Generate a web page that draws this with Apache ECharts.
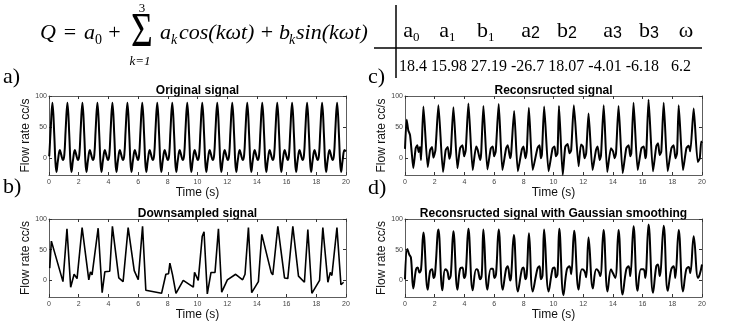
<!DOCTYPE html>
<html>
<head>
<meta charset="utf-8">
<script src="https://cdn.jsdelivr.net/npm/echarts@6/dist/echarts.min.js"></script>
<style>
  html, body { margin: 0; padding: 0; background: #fff; }
  #main { width: 738px; height: 322px; }
</style>
</head>
<body>
<div id="main"></div>
<script>
// Fourier coefficients shown in the table
var coefNames = ['a0', 'a1', 'b1', 'a2', 'b2', 'a3', 'b3', 'ω'];
var coefValues = ['18.4', '15.98', '27.19', '-26.7', '18.07', '-4.01', '-6.18', '6.2'];

var timeTicks = [0, 2, 4, 6, 8, 10, 12, 14, 16, 18, 20];
var flowTicks = [0, 50, 100];

var panelTitles = ['Original signal', 'Downsampled signal', 'Reconsructed signal',
  'Reconsructed signal with Gaussian smoothing'];
var panelLetters = ['a)', 'b)', 'c)', 'd)'];

// a) original signal [time s, flow cc/s]
var originalSignal = [
  [0, 3], [0.02, 5], [0.11, 45], [0.23, 89], [0.36, 35], [0.43, -5], [0.50, -22], [0.60, -4], [0.73, 13], [0.83, 5], [0.93, -3],
  [1.03, 5], [1.12, 45], [1.24, 89], [1.37, 35], [1.44, -5], [1.51, -22], [1.61, -4], [1.74, 13], [1.84, 5], [1.94, -3],
  [2.04, 5], [2.13, 45], [2.25, 89], [2.38, 35], [2.45, -5], [2.52, -22], [2.62, -4], [2.75, 13], [2.85, 5], [2.95, -3],
  [3.05, 5], [3.14, 45], [3.26, 89], [3.39, 35], [3.46, -5], [3.53, -22], [3.63, -4], [3.76, 13], [3.86, 5], [3.96, -3],
  [4.06, 5], [4.15, 45], [4.27, 89], [4.40, 35], [4.47, -5], [4.54, -22], [4.64, -4], [4.77, 13], [4.87, 5], [4.97, -3],
  [5.07, 5], [5.16, 45], [5.28, 89], [5.41, 35], [5.48, -5], [5.55, -22], [5.65, -4], [5.78, 13], [5.88, 5], [5.98, -3],
  [6.07, 5], [6.16, 45], [6.28, 89], [6.41, 35], [6.48, -5], [6.55, -22], [6.65, -4], [6.78, 13], [6.88, 5], [6.98, -3],
  [7.08, 5], [7.17, 45], [7.29, 89], [7.42, 35], [7.49, -5], [7.56, -22], [7.66, -4], [7.79, 13], [7.89, 5], [7.99, -3],
  [8.09, 5], [8.18, 45], [8.30, 89], [8.43, 35], [8.50, -5], [8.57, -22], [8.67, -4], [8.80, 13], [8.90, 5], [9.00, -3],
  [9.10, 5], [9.19, 45], [9.31, 89], [9.44, 35], [9.51, -5], [9.58, -22], [9.68, -4], [9.81, 13], [9.91, 5], [10.01, -3],
  [10.11, 5], [10.20, 45], [10.32, 89], [10.45, 35], [10.52, -5], [10.59, -22], [10.69, -4], [10.82, 13], [10.92, 5], [11.02, -3],
  [11.12, 5], [11.21, 45], [11.33, 89], [11.46, 35], [11.53, -5], [11.60, -22], [11.70, -4], [11.83, 13], [11.93, 5], [12.03, -3],
  [12.13, 5], [12.22, 45], [12.34, 89], [12.47, 35], [12.54, -5], [12.61, -22], [12.71, -4], [12.84, 13], [12.94, 5], [13.04, -3],
  [13.14, 5], [13.23, 45], [13.35, 89], [13.48, 35], [13.55, -5], [13.62, -22], [13.72, -4], [13.85, 13], [13.95, 5], [14.05, -3],
  [14.15, 5], [14.24, 45], [14.36, 89], [14.49, 35], [14.56, -5], [14.63, -22], [14.73, -4], [14.86, 13], [14.96, 5], [15.06, -3],
  [15.16, 5], [15.25, 45], [15.37, 89], [15.50, 35], [15.57, -5], [15.64, -22], [15.74, -4], [15.87, 13], [15.97, 5], [16.07, -3],
  [16.16, 5], [16.25, 45], [16.37, 89], [16.50, 35], [16.57, -5], [16.64, -22], [16.74, -4], [16.87, 13], [16.97, 5], [17.07, -3],
  [17.17, 5], [17.26, 45], [17.38, 89], [17.51, 35], [17.58, -5], [17.65, -22], [17.75, -4], [17.88, 13], [17.98, 5], [18.08, -3],
  [18.18, 5], [18.27, 45], [18.39, 89], [18.52, 35], [18.59, -5], [18.66, -22], [18.76, -4], [18.89, 13], [18.99, 5], [19.09, -3],
  [19.19, 5], [19.28, 45], [19.40, 89], [19.53, 35], [19.60, -5], [19.67, -22], [19.77, -4], [19.90, 13], [20, 11]
];

// b) downsampled signal
var downsampledSignal = [
  [0.05, 20], [0.16, 64], [0.94, -2], [1.21, 84], [1.46, -11], [1.69, 10], [1.89, 3], [2.23, 86],
  [2.68, 1], [2.79, 14], [2.90, 9], [3.31, 85], [3.58, -20], [3.76, 14], [4.09, 15], [4.27, 88],
  [4.70, 4], [4.99, -2], [5.33, 86], [5.74, 16], [6.01, 1], [6.30, 88], [6.52, -16], [7.58, -21],
  [7.87, 10], [8.05, 11], [8.14, 28], [8.32, 9], [8.55, -21], [9.04, 0], [9.72, -11], [9.80, 13],
  [10.05, 0], [10.32, 72], [10.44, 79], [10.66, -22], [10.91, 13], [11.18, 13], [11.41, 84], [11.63, -19],
  [12.01, 1], [12.57, 10], [13.04, 1], [13.20, 10], [13.43, 86], [13.65, -20], [14.10, -2], [14.33, 75],
  [14.96, 13], [15.07, 9], [15.41, 88], [15.86, 4], [16.08, 3], [16.42, 88], [16.80, 7], [17.20, -3],
  [17.43, 83], [17.70, -21], [18.22, 0], [18.44, 86], [18.78, -3], [18.94, 13], [19.05, 8], [19.39, 86],
  [19.66, -7], [19.84, -3]
];

// c) reconstructed signal
var reconstructedSignal = [
  [0, 15], [0.11, 62], [0.22, 45], [0.34, 37], [0.45, 10], [0.56, -16], [0.72, 16], [0.83, 21], [0.92, 10], [1.01, 18], [1.08, -3],
  [1.24, 83], [1.53, -14], [1.69, 13], [1.82, 18], [1.91, 1], [2.05, 13], [2.25, 85], [2.56, -22], [2.74, 13], [2.88, 18], [2.99, -1],
  [3.08, 8], [3.26, 82], [3.53, -16], [3.71, 16], [3.87, 21], [3.98, 3], [4.09, 13], [4.27, 88], [4.56, -19], [4.79, 19], [4.90, 13],
  [5.06, -3], [5.13, 8], [5.28, 84], [5.55, -18], [5.78, 16], [5.91, 19], [6.00, 3], [6.11, 11], [6.31, 87], [6.56, -19], [6.81, 16],
  [6.92, 21], [7.08, 0], [7.15, 8], [7.35, 76], [7.60, -21], [7.87, 14], [7.98, 19], [8.11, 0], [8.20, 11], [8.34, 81], [8.60, -19],
  [8.92, 16], [9.06, 21], [9.15, 0], [9.22, 6], [9.37, 83], [9.67, -21], [9.94, 16], [10.07, 19], [10.16, 3], [10.27, 8], [10.37, 84],
  [10.62, -27], [10.79, 18], [10.95, 23], [11.08, 8], [11.19, 13], [11.37, 85], [11.69, -13], [11.85, 22], [11.98, 19], [12.09, 0],
  [12.20, 8], [12.36, 72], [12.63, -19], [12.86, 13], [12.97, 19], [13.11, -3], [13.20, 5], [13.38, 85], [13.62, -22], [13.87, 16],
  [14.01, 11], [14.12, 0], [14.21, 8], [14.38, 84], [14.66, -24], [14.90, 16], [15.06, 21], [15.17, 3], [15.24, 8], [15.39, 89],
  [15.67, -19], [15.92, 16], [16.08, 19], [16.19, 0], [16.25, 8], [16.40, 94], [16.70, -21], [16.92, 19], [17.04, 24], [17.15, 5],
  [17.26, 11], [17.42, 89], [17.69, -21], [17.94, 16], [18.09, 21], [18.21, 0], [18.32, 8], [18.43, 85], [18.72, -19], [18.95, 16],
  [19.10, 20], [19.21, 11], [19.44, 80], [19.71, -6], [19.85, 0], [19.95, 27], [20, 24]
];

// d) reconstructed signal with gaussian smoothing
var smoothedSignal = [
  [0, 2], [0.16, 51], [0.29, 42], [0.40, 37], [0.56, -13], [0.74, 18], [0.85, 21], [0.97, 13], [1.08, 18], [1.24, 78],
  [1.53, -15], [1.69, 15], [1.82, 18], [1.93, 4], [2.02, 10], [2.25, 83], [2.52, -16], [2.70, 18], [2.85, 15], [2.97, 2],
  [3.08, 8], [3.26, 80], [3.53, -15], [3.71, 19], [3.87, 21], [3.98, 4], [4.09, 12], [4.27, 84], [4.56, -16], [4.79, 18],
  [4.90, 17], [5.06, 2], [5.17, 10], [5.28, 83], [5.55, -15], [5.78, 19], [5.91, 19], [6.02, 4], [6.13, 10], [6.31, 83],
  [6.58, -15], [6.81, 19], [6.92, 23], [7.08, 0], [7.15, 7], [7.33, 74], [7.60, -18], [7.87, 18], [7.98, 21], [8.11, 2],
  [8.20, 10], [8.35, 77], [8.60, -18], [8.92, 19], [9.06, 23], [9.15, 2], [9.26, 8], [9.37, 83], [9.67, -18], [9.94, 19],
  [10.07, 21], [10.16, 5], [10.27, 10], [10.39, 84], [10.67, -24], [10.90, 18], [11.08, 23], [11.19, 10], [11.39, 81], [11.69, -15],
  [11.91, 18], [12.09, 15], [12.20, 5], [12.36, 70], [12.65, -13], [12.88, 18], [13.03, 15], [13.15, 7], [13.37, 82], [13.64, -18],
  [13.87, 18], [14.00, 12], [14.16, 4], [14.38, 82], [14.65, -23], [14.90, 18], [15.06, 23], [15.17, 7], [15.39, 88], [15.66, -17],
  [15.89, 18], [16.07, 18], [16.18, 4], [16.40, 91], [16.70, -20], [16.92, 23], [17.03, 26], [17.15, 7], [17.42, 89], [17.69, -17],
  [17.93, 18], [18.09, 23], [18.20, 4], [18.43, 82], [18.72, -18], [18.94, 18], [19.10, 22], [19.21, 12], [19.44, 72], [19.73, 4],
  [19.85, 10], [20, 26]
];

var signals = [originalSignal, downsampledSignal, reconstructedSignal, smoothedSignal];
var smoothing = [0.4, false, 0.2, 0.4];
var widths = [2, 1.6, 2, 2];

var chart = echarts.init(document.getElementById('main'));

var SANS = '"Liberation Sans", Arial, sans-serif';
var SERIF = '"Liberation Serif", "Times New Roman", serif';

var grids = [
  { left: 49, top: 96, width: 297, height: 79 },
  { left: 49, top: 219, width: 297, height: 78 },
  { left: 405, top: 96, width: 297, height: 79 },
  { left: 405, top: 219, width: 297, height: 78 }
];

var xAxes = [], yAxes = [], series = [], graphics = [];
var boxColor = '#333';

grids.forEach(function (g, i) {
  xAxes.push({
    type: 'value', gridIndex: i, min: 0, max: 20, interval: 2,
    name: 'Time (s)', nameLocation: 'middle', nameGap: 11,
    nameTextStyle: { fontSize: 12, fontFamily: SANS, color: '#111' },
    axisLine: { onZero: false, lineStyle: { color: boxColor, width: 0.8 } },
    axisTick: { inside: true, length: 3, lineStyle: { color: boxColor } },
    axisLabel: { fontSize: 7, fontFamily: SANS, color: '#444', margin: 4 },
    splitLine: { show: false }
  });
  xAxes.push({
    type: 'value', gridIndex: i, position: 'top', min: 0, max: 20, interval: 2,
    axisLine: { onZero: false, lineStyle: { color: boxColor, width: 0.8 } },
    axisTick: { inside: true, length: 3, lineStyle: { color: boxColor } },
    axisLabel: { show: false }, splitLine: { show: false }
  });
  yAxes.push({
    type: 'value', gridIndex: i, min: -27, max: 100,
    name: 'Flow rate cc/s', nameLocation: 'middle', nameGap: 14,
    nameTextStyle: { fontSize: 12, fontFamily: SANS, color: '#111' },
    axisLine: { show: true, onZero: false, lineStyle: { color: boxColor, width: 0.8 } },
    axisTick: { show: true, inside: true, length: 3, customValues: flowTicks, lineStyle: { color: boxColor } },
    axisLabel: { fontSize: 7, fontFamily: SANS, color: '#444', margin: 2, customValues: flowTicks },
    splitLine: { show: false }
  });
  yAxes.push({
    type: 'value', gridIndex: i, position: 'right', min: -27, max: 100,
    axisLine: { show: true, onZero: false, lineStyle: { color: boxColor, width: 0.8 } },
    axisTick: { show: true, inside: true, length: 3, customValues: flowTicks, lineStyle: { color: boxColor } },
    axisLabel: { show: false }, splitLine: { show: false }
  });
  series.push({
    type: 'line', xAxisIndex: 2 * i, yAxisIndex: 2 * i,
    data: signals[i], symbol: 'none', smooth: smoothing[i],
    lineStyle: { color: '#000', width: widths[i] },
    silent: true, animation: false
  });
  // title above each panel
  graphics.push({
    type: 'text', x: g.left + g.width / 2, y: g.top - 5,
    style: { text: panelTitles[i], fontSize: 12, fontWeight: 'bold', fontFamily: SANS,
      fill: '#000', align: 'center', verticalAlign: 'middle' }
  });
});

// panel letters
var letterPos = [[3, 77], [3, 187], [368, 77], [368, 188]];
panelLetters.forEach(function (l, i) {
  graphics.push({
    type: 'text', x: letterPos[i][0], y: letterPos[i][1],
    style: { text: l, fontSize: 22, fontFamily: SERIF, fill: '#000', verticalAlign: 'middle' }
  });
});

// formula
function mathText(x, y, text, size, italic, align) {
  return {
    type: 'text', x: x, y: y,
    style: { text: text, fontSize: size, fontFamily: SERIF, fontStyle: italic ? 'italic' : 'normal',
      fill: '#000', align: align || 'left', verticalAlign: 'middle' }
  };
}
var fy = 33;
graphics.push(mathText(40, fy, 'Q', 22, true));
graphics.push(mathText(70, fy, '=', 22, false, 'center'));
graphics.push(mathText(84, fy, 'a', 22, true));
graphics.push(mathText(95, fy + 7, '0', 14, false));
graphics.push(mathText(114.5, fy, '+', 22, false, 'center'));
graphics.push({
  type: 'text', x: 142, y: 33, scaleX: 0.78,
  style: { text: 'Σ', fontSize: 48, fontFamily: SERIF, fill: '#000', align: 'center', verticalAlign: 'middle' }
});
graphics.push(mathText(142, 9, '3', 13, false, 'center'));
graphics.push(mathText(140, 62, 'k=1', 13, true, 'center'));
graphics.push(mathText(160, fy, 'a', 22, true));
graphics.push(mathText(171, fy + 7, 'k', 14, true));
graphics.push(mathText(179, fy, 'cos(kωt)', 22, true));
graphics.push(mathText(267, fy, '+', 22, false, 'center'));
graphics.push(mathText(279, fy, 'b', 22, true));
graphics.push(mathText(289, fy + 7, 'k', 14, true));
graphics.push(mathText(296, fy, 'sin(kωt)', 22, true));

// coefficient table
var colX = [411, 447, 486, 529, 566, 611, 648, 686];
coefNames.forEach(function (n, i) {
  var base = n.charAt(0), sub = n.slice(1);
  if (!sub) {
    graphics.push(mathText(colX[i], 31, base, 22, false, 'center'));
  } else {
    graphics.push(mathText(colX[i] + 2, 31, base, 22, false, 'right'));
    var big = sub === '2' || sub === '3';
    graphics.push({
      type: 'text', x: colX[i] + 2, y: big ? 34 : 38,
      style: { text: sub, fontSize: big ? 16 : 13, fontFamily: big ? SANS : SERIF,
        fill: '#000', align: 'left', verticalAlign: 'middle' }
    });
  }
});
var valueRow = coefValues.slice(0, -1).join(' ') + '   ' + coefValues[coefValues.length - 1];
graphics.push(mathText(399, 67, valueRow, 16, false, 'left'));
graphics.push({ type: 'line', shape: { x1: 374, y1: 48, x2: 702, y2: 48 },
  style: { stroke: '#000', lineWidth: 1.5 } });
graphics.push({ type: 'line', shape: { x1: 396, y1: 5, x2: 396, y2: 78 },
  style: { stroke: '#000', lineWidth: 1.5 } });

chart.setOption({
  backgroundColor: '#fff',
  animation: false,
  grid: grids,
  xAxis: xAxes,
  yAxis: yAxes,
  series: series,
  graphic: graphics
});
</script>
</body>
</html>
